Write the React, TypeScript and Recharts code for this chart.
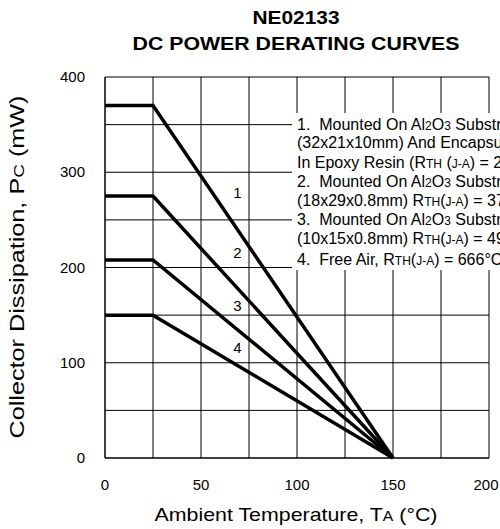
import React from 'react';
import { LineChart, Line, XAxis, YAxis, CartesianGrid, ReferenceDot } from 'recharts';

// ---- data ----
const TEMPS = [0, 25, 150]; // Ambient temperature (°C)
const CURVE1 = [370, 370, 0]; // mW
const CURVE2 = [275, 275, 0];
const CURVE3 = [208, 208, 0];
const CURVE4 = [150, 150, 0];

const X_TICKS = [0, 25, 50, 75, 100, 125, 150, 175, 200];
const X_LABELS = [0, 50, 100, 150, 200];
const Y_TICKS = [0, 50, 100, 150, 200, 250, 300, 350, 400];
const Y_LABELS = [0, 100, 200, 300, 400];

const CURVE_TAGS = [
  { tag: '1', t: 69, p: 279 },
  { tag: '2', t: 69, p: 216 },
  { tag: '3', t: 69, p: 160 },
  { tag: '4', t: 69, p: 116 },
];

const data = TEMPS.map((t, i) => ({
  t,
  c1: CURVE1[i],
  c2: CURVE2[i],
  c3: CURVE3[i],
  c4: CURVE4[i],
}));

const FONT = '"Liberation Sans", Arial, Helvetica, sans-serif';
const NB = '\u00a0';

const XTick = (props: any) => {
  const { x, payload } = props;
  if (!X_LABELS.includes(payload.value)) return <g />;
  return (
    <text x={Math.min(x, 486)} y={490} textAnchor="middle" fontSize={15} fill="#000" fontFamily={FONT}>
      {payload.value}
    </text>
  );
};

const YTick = (props: any) => {
  const { y, payload } = props;
  if (!Y_LABELS.includes(payload.value)) return <g />;
  return (
    <text x={85} y={y + 5} textAnchor="end" fontSize={15} fill="#000" fontFamily={FONT}>
      {payload.value}
    </text>
  );
};

const SUB = 12;

export default function App() {
  return (
    <div
      style={{
        position: 'absolute',
        left: 0,
        top: 0,
        width: 500,
        height: 529,
        background: '#fff',
        fontFamily: FONT,
        overflow: 'hidden',
      }}
    >
      <LineChart width={500} height={529} data={data} margin={{ top: 77, right: 11, bottom: 0, left: 0 }}>
        <CartesianGrid stroke="#000" strokeWidth={1} />
        <XAxis
          type="number"
          dataKey="t"
          domain={[0, 200]}
          ticks={X_TICKS}
          interval={0}
          height={71}
          tickLine={false}
          axisLine={{ stroke: '#000' }}
          tick={<XTick />}
        />
        <YAxis
          type="number"
          domain={[0, 400]}
          ticks={Y_TICKS}
          interval={0}
          width={105}
          tickLine={false}
          axisLine={{ stroke: '#000' }}
          tick={<YTick />}
        />
        <Line type="linear" dataKey="c1" stroke="#000" strokeWidth={3.5} dot={false} activeDot={false} isAnimationActive={false} />
        <Line type="linear" dataKey="c2" stroke="#000" strokeWidth={3.5} dot={false} activeDot={false} isAnimationActive={false} />
        <Line type="linear" dataKey="c3" stroke="#000" strokeWidth={3.5} dot={false} activeDot={false} isAnimationActive={false} />
        <Line type="linear" dataKey="c4" stroke="#000" strokeWidth={3.5} dot={false} activeDot={false} isAnimationActive={false} />
        {CURVE_TAGS.map((c) => (
          <ReferenceDot
            key={c.tag}
            x={c.t}
            y={c.p}
            r={0}
            fill="none"
            stroke="none"
            ifOverflow="visible"
            label={{ value: c.tag, position: 'center', fill: '#000', fontSize: 15, fontFamily: FONT }}
          />
        ))}
      </LineChart>
      <svg
        width={500}
        height={529}
        style={{ position: 'absolute', left: 0, top: 0, pointerEvents: 'none' }}
        fontFamily={FONT}
      >
        {/* Title */}
        <text x={296} y={24} textAnchor="middle" fontSize={18} fontWeight="bold" fill="#000" textLength={87} lengthAdjust="spacingAndGlyphs">
          NE02133
        </text>
        <text x={296} y={50} textAnchor="middle" fontSize={18} fontWeight="bold" fill="#000" textLength={327} lengthAdjust="spacingAndGlyphs">
          DC POWER DERATING CURVES
        </text>

        {/* Axis titles */}
        <text x={296} y={521} textAnchor="middle" fontSize={19} fill="#000" textLength={283} lengthAdjust="spacingAndGlyphs">
          Ambient Temperature, T<tspan fontSize={14}>A</tspan> (°C)
        </text>
        <text x={24} y={267} textAnchor="middle" fontSize={20} fill="#000" transform="rotate(-90, 24, 267)" textLength={343} lengthAdjust="spacingAndGlyphs">
          Collector Dissipation, P<tspan fontSize={15}>C</tspan> (mW)
        </text>

        {/* Notes box */}
        <rect x={292} y={113} width={208} height={157} fill="#fff" />
        <g fontSize={16} fill="#000">
          <text x={297} y={130}>
            {`1.${NB} Mounted On Al`}<tspan fontSize={SUB}>2</tspan>O<tspan fontSize={SUB}>3</tspan> Substrate
          </text>
          <text x={297} y={148}>(32x21x10mm) And Encapsulated</text>
          <text x={297} y={168}>
            In Epoxy Resin (R<tspan fontSize={SUB}>TH</tspan> (<tspan fontSize={SUB}>J-A</tspan>) = 270°C/W)
          </text>
          <text x={297} y={187}>
            {`2.${NB} Mounted On Al`}<tspan fontSize={SUB}>2</tspan>O<tspan fontSize={SUB}>3</tspan> Substrate
          </text>
          <text x={297} y={206}>
            (18x29x0.8mm) R<tspan fontSize={SUB}>TH</tspan>(<tspan fontSize={SUB}>J-A</tspan>) = 370°C/W
          </text>
          <text x={297} y={225}>
            {`3.${NB} Mounted On Al`}<tspan fontSize={SUB}>2</tspan>O<tspan fontSize={SUB}>3</tspan> Substrate
          </text>
          <text x={297} y={244}>
            (10x15x0.8mm) R<tspan fontSize={SUB}>TH</tspan>(<tspan fontSize={SUB}>J-A</tspan>) = 490°C/W
          </text>
          <text x={297} y={265}>
            {`4.${NB} Free Air, R`}<tspan fontSize={SUB}>TH</tspan>(<tspan fontSize={SUB}>J-A</tspan>) = 666°C/W
          </text>
        </g>
      </svg>
    </div>
  );
}
